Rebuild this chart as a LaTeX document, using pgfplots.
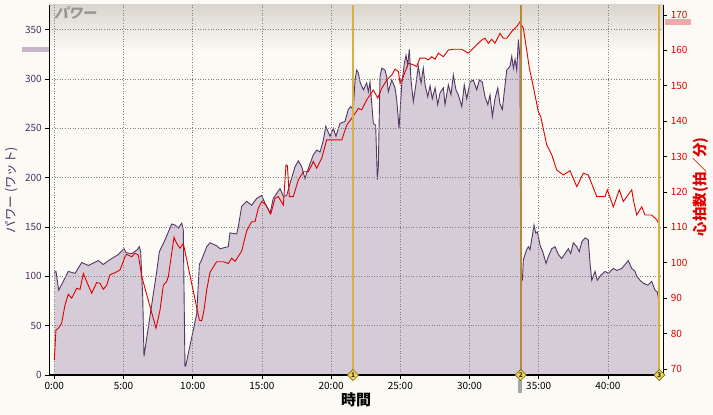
\documentclass[border=0pt]{standalone}
\usepackage{pgfplots}
\pgfplotsset{compat=1.18}
\usepackage{pgfplotstable}
\usepackage{fontspec}
\setmainfont{Noto Sans CJK JP}
\definecolor{bgc}{HTML}{FBFAF4}
\definecolor{gradtop}{HTML}{DAD6CE}
\definecolor{pfill}{HTML}{D6CCD7}
\definecolor{pline}{HTML}{553766}
\definecolor{ptxt}{HTML}{4A3062}
\definecolor{hrc}{HTML}{E00000}
\definecolor{mkgold}{HTML}{D9B044}
\definecolor{mkbrown}{HTML}{B8863C}
\definecolor{dyel}{HTML}{F2D84B}
\definecolor{ddark}{HTML}{7A6A28}
\definecolor{swp}{HTML}{C6B6C8}
\definecolor{swr}{HTML}{F0A8A8}

\pgfplotstableread{
t p
0.00 104
0.12 105
0.32 86
0.65 95
1.01 105
1.50 103
1.98 114
2.46 111
3.18 116
3.54 112
4.02 117
4.62 122
5.04 128
5.18 124
5.59 123
6.00 127
6.14 130
6.24 125
6.39 79
6.48 19
7.40 105
7.59 125
8.00 137
8.48 153
8.72 152
8.96 149
9.21 154
9.32 147
9.44 9
9.49 9
10.29 62
10.48 112
10.65 117
11.01 130
11.25 134
11.73 131
11.97 128
12.57 130
12.69 144
13.18 143
13.29 150
13.54 171
13.90 176
14.26 172
14.62 179
14.99 182
15.22 174
15.59 164
15.82 179
16.31 189
16.55 181
16.79 182
17.03 194
17.39 211
17.63 217
17.88 211
18.11 199
18.24 205
18.71 223
18.96 228
19.20 226
19.44 238
19.61 252
19.92 242
20.16 250
20.35 242
20.64 255
21.00 257
21.24 269
21.42 272
21.60 269
21.73 299
21.85 309
21.97 306
22.09 297
22.33 289
22.57 296
22.69 287
22.81 297
23.05 255
23.22 253
23.34 198
23.41 211
23.53 302
23.66 311
23.89 309
24.02 302
24.13 287
24.38 299
24.62 291
24.74 279
24.91 250
25.10 294
25.29 316
25.41 324
25.53 314
25.65 330
25.77 299
25.94 277
26.11 293
26.30 313
26.50 296
26.66 311
26.79 294
26.98 282
27.15 293
27.31 280
27.51 291
27.70 274
27.87 286
28.11 291
28.23 274
28.47 294
28.66 284
28.83 304
29.02 289
29.19 284
29.44 272
29.62 294
29.80 280
30.04 297
30.27 299
30.52 289
30.71 299
30.92 297
31.12 282
31.32 274
31.48 284
31.65 262
31.84 280
32.04 291
32.20 275
32.37 269
32.51 287
32.69 309
32.93 313
33.05 323
33.17 311
33.29 320
33.41 309
33.53 340
33.65 320
33.70 96
33.82 96
33.89 117
34.13 127
34.25 130
34.37 127
34.57 144
34.66 152
34.78 144
34.90 145
35.09 132
35.33 123
35.53 113
35.69 120
35.94 128
36.18 130
36.42 122
36.66 118
36.90 123
37.14 128
37.31 123
37.50 134
37.75 130
37.93 125
38.11 135
38.35 139
38.58 137
38.71 113
38.83 96
39.07 105
39.23 96
39.48 101
39.79 105
40.03 103
40.39 108
40.64 106
41.00 108
41.24 112
41.47 116
41.72 108
41.96 105
42.08 100
42.32 96
42.56 93
42.88 91
43.16 95
43.40 86
43.57 84
43.71 73
}\powertab

\pgfplotstableread{
t hr
0.00 72.5
0.12 81
0.29 81.5
0.53 82.9
0.77 88
1.01 91.1
1.26 90
1.62 92.8
1.86 92.5
2.10 97
2.34 94.7
2.70 91.4
3.06 94.4
3.30 94.2
3.54 92.5
3.79 93.7
4.02 96.6
4.39 97.2
4.75 98
5.11 101.7
5.23 102.4
5.59 101.7
5.83 102.7
6.07 102.2
6.32 96.1
7.35 81.5
7.51 84.3
7.64 86.7
7.88 93.7
8.12 94.7
8.24 96.1
8.48 102.7
8.65 107.2
8.84 105.5
9.08 104.1
9.32 105.5
10.48 83.8
10.65 83.6
10.82 86.7
11.01 92.3
11.25 97.3
11.73 100.3
12.21 100.3
12.57 99.8
12.82 101.3
13.06 100.4
13.54 103.3
13.90 109
14.26 111.6
14.50 111.6
14.74 115.4
14.99 117.3
15.30 116.3
15.64 113.8
15.95 118.2
16.18 118.7
16.55 116.3
16.74 127.6
16.84 127.4
16.98 118.7
17.27 118.7
17.63 123.4
17.99 125.7
18.35 125.7
18.60 127.6
18.71 128.6
18.96 126.7
19.32 129.5
19.68 134.7
20.77 134.7
21.13 138.9
21.49 140.8
21.97 143.6
22.21 143.2
22.57 146
23.05 148.8
23.37 146.5
23.66 149.3
24.02 151.6
24.38 153
24.62 154.7
24.86 154
24.98 150.7
25.22 152.6
25.58 156.4
25.94 155.9
26.18 155.4
26.42 157.8
26.79 157.8
27.02 157.3
27.27 158.2
27.51 157.5
27.75 159.2
28.11 158.2
28.47 160.1
28.83 160.3
29.44 160.3
29.91 159.2
30.27 160.6
30.64 162
30.88 162.9
31.12 163.4
31.36 162
31.60 163.1
31.84 162
32.20 164.8
32.44 163.4
32.69 163.4
33.05 165.3
33.41 166.7
33.65 168.1
33.89 166.2
34.13 160.1
34.32 155
34.61 149.7
34.97 142.7
35.14 141.3
35.58 133.3
35.94 130.5
36.30 126.2
36.78 124.8
37.26 126
37.75 121.5
38.22 125.3
38.58 124.8
39.19 118.7
39.79 118.7
39.96 120.6
40.39 115.8
40.82 120.6
41.11 117.3
41.72 120.6
41.84 117.7
42.08 113.5
42.44 115.8
42.68 113.5
43.16 113.5
43.54 112.1
43.71 110.7
}\hrtab

\begin{document}
\begin{tikzpicture}
\path[use as bounding box, fill=bgc] (0,0) rectangle (713pt,415pt);
% swatches and extra marks
\fill[swp] (22pt,363pt) rectangle (49pt,368pt);
\fill[swr] (665pt,390pt) rectangle (691pt,396pt);
\fill[gray!70] (518pt,22pt) rectangle (522pt,35pt);

\begin{axis}[
  at={(49.3pt,40pt)}, anchor=south west, scale only axis,
  width=614pt, height=370pt,
  xmin=-0.361, xmax=44.0, ymin=0, ymax=375,
  axis line style={draw=none},
  xtick={0,5,...,40},
  xticklabels={0:00,5:00,10:00,15:00,20:00,25:00,30:00,35:00,40:00},
  ytick={0,50,...,350},
  xtick pos=left, ytick pos=left,
  tick align=outside, major tick length=4pt,
  tick style={black, line width=0.8pt},
  grid=major,
  major grid style={black!50, line width=0.6pt, dash pattern=on 1pt off 1.6pt},
  axis on top,
  /pgf/number format/assume math mode=true,
  ticklabel style={font=\fontsize{10}{12}\selectfont},
  yticklabel style={text=ptxt},
  xticklabel style={text=black},
]
\fill[top color=gradtop, bottom color=bgc] (rel axis cs:0,0.875) rectangle (rel axis cs:1,1);
\addplot[draw=none, fill=pfill] table[x=t, y=p] {\powertab} \closedcycle;
\addplot[pline, line width=0.9pt] table[x=t, y=p] {\powertab};
\end{axis}

\begin{axis}[
  at={(49.3pt,40pt)}, anchor=south west, scale only axis,
  width=614pt, height=370pt,
  xmin=-0.361, xmax=44.0, ymin=68.31, ymax=172.8,
  axis line style={draw=none},
  xtick=\empty,
  ytick={70,80,...,170},
  ytick pos=right,
  tick align=outside, major tick length=4pt,
  tick style={black, line width=0.8pt},
  /pgf/number format/assume math mode=true,
  ticklabel style={font=\fontsize{10}{12}\selectfont},
  yticklabel style={text=hrc},
  clip=false,
]
\addplot[hrc, line width=0.9pt] table[x=t, y=hr] {\hrtab};
\addplot[mkgold, line width=1.6pt] coordinates {(21.58,68.31) (21.58,172.8)};
\addplot[mkbrown, line width=1.6pt] coordinates {(33.70,68.31) (33.70,172.8)};
\addplot[mkgold, line width=1.6pt] coordinates {(43.71,68.31) (43.71,172.8)};
\draw[black, line width=1.2pt] (rel axis cs:0,1) -- (rel axis cs:0,0) -- (rel axis cs:1,0) -- (rel axis cs:1,1);
\addplot[only marks, mark=square*, mark size=3.9pt,
  mark options={rotate=45, fill=dyel, draw=ddark, line width=0.7pt},
  nodes near coords, point meta=explicit symbolic,
  every node near coord/.append style={anchor=center, inner sep=0pt, yshift=0pt, font=\fontsize{6.5}{7}\selectfont\bfseries, text=black!85}]
  table[row sep=\\, meta=l] {x y l\\ 21.58 68.31 1\\ 33.70 68.31 2\\ 43.71 68.31 3\\};
\end{axis}

\node[rotate=90, text=ptxt, font=\fontsize{12.5}{14}\selectfont] at (12pt,225pt) {パワー (ワット)};
\node[rotate=90, text=hrc, font=\fontsize{14.5}{16}\selectfont\bfseries] at (701pt,228pt) {心拍数(拍／分)};
\node[font=\fontsize{15}{17}\selectfont\bfseries] at (356pt,15pt) {時間};
\node[anchor=west, text=black!42, font=\fontsize{14}{16}\selectfont\bfseries, xslant=0.25] at (52pt,402pt) {パワー};
\end{tikzpicture}
\end{document}
